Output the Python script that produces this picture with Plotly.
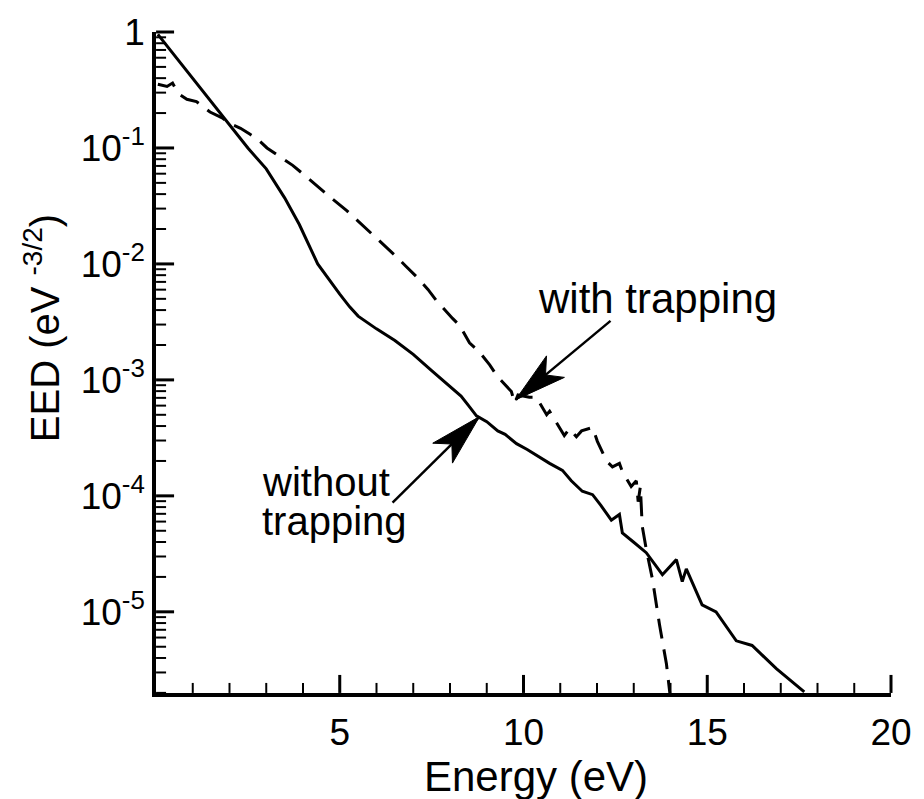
import numpy as np
import plotly.graph_objects as go

# ---------------- data ----------------
energy_without = [0.05, 1.0, 2.0, 2.5, 3.0, 3.5, 3.9, 4.4, 5.0, 5.27, 5.5, 6.0, 6.5, 7.0, 7.5,
                  7.99, 8.3, 8.5, 8.72, 9.0, 9.3, 9.5, 9.81, 10.1, 10.4, 10.71, 11.06, 11.3,
                  11.6, 11.88, 12.1, 12.39, 12.61, 12.69, 13.0, 13.34, 13.78, 14.16, 14.32,
                  14.43, 14.86, 15.24, 15.79, 16.22, 16.88, 17.64]
log_eed_without = [-0.02, -0.40, -0.81, -1.0, -1.18, -1.43, -1.66, -2.0, -2.26, -2.37, -2.45,
                   -2.56, -2.66, -2.78, -2.92, -3.06, -3.14, -3.22, -3.31, -3.36, -3.44, -3.47,
                   -3.55, -3.60, -3.66, -3.72, -3.78, -3.87, -3.96, -3.99, -4.08, -4.21, -4.16,
                   -4.32, -4.40, -4.49, -4.68, -4.55, -4.74, -4.63, -4.94, -5.00, -5.25, -5.29,
                   -5.49, -5.69]

energy_with = [0.05, 0.3, 0.45, 0.6, 0.84, 1.1, 1.47, 1.8, 2.01, 2.3, 2.55, 2.75, 3.02, 3.3,
               3.72, 4.1, 4.46, 4.8, 5.19, 5.5, 5.82, 6.2, 6.55, 6.8, 7.09, 7.4, 7.64, 8.07,
               8.26, 8.53, 8.8, 9.08, 9.29, 9.67, 9.76, 9.85, 10.16, 10.35, 10.63, 10.71,
               10.98, 11.11, 11.25, 11.44, 11.58, 11.88, 12.01, 12.26, 12.42, 12.61, 12.69,
               12.93, 13.07, 13.12, 13.18, 13.23, 13.34, 13.51, 13.7, 13.89, 14.0]
log_eed_with = [-0.45, -0.47, -0.44, -0.53, -0.58, -0.60, -0.69, -0.74, -0.79, -0.83, -0.88,
                -0.92, -1.0, -1.06, -1.15, -1.25, -1.35, -1.44, -1.54, -1.63, -1.72, -1.83,
                -1.94, -2.02, -2.11, -2.22, -2.32, -2.47, -2.53, -2.68, -2.76, -2.87, -2.97,
                -3.10, -3.20, -3.13, -3.15, -3.15, -3.30, -3.27, -3.41, -3.48, -3.42, -3.49,
                -3.44, -3.41, -3.53, -3.70, -3.75, -3.72, -3.79, -3.92, -3.87, -4.05, -3.92,
                -4.26, -4.46, -4.72, -5.11, -5.45, -5.75]

eed_without = [10 ** v for v in log_eed_without]
eed_with = [10 ** v for v in log_eed_with]

X_RANGE = [0, 20]
Y_LOG_RANGE = [-5.7, 0]
x_tickvals = [5, 10, 15, 20]
x_minor_tickvals = [v for v in range(1, 20) if v % 5 != 0]
y_tickvals = [1, 1e-1, 1e-2, 1e-3, 1e-4, 1e-5]
y_ticktext = ["1", "10<sup>-1</sup>", "10<sup>-2</sup>", "10<sup>-3</sup>",
              "10<sup>-4</sup>", "10<sup>-5</sup>"]
y_minor_tickvals = [k * 10.0 ** e for e in range(-6, 0) for k in range(2, 10)
                    if Y_LOG_RANGE[0] <= np.log10(k * 10.0 ** e) <= Y_LOG_RANGE[1]]

# ---------------- layout geometry ----------------
W, H = 924, 799
L_M, R_M, T_M, B_M = 156, 32, 21, 106
PW = W - L_M - R_M
PH = H - T_M - B_M
FONT = "Liberation Sans, Arial, Helvetica, sans-serif"
EDGE = 1e-4  # anchor just inside the axis line (an exact 0 anchor is not drawn)


def px_to_paper(xp, yp):
    return (xp - L_M) / PW, (H - B_M - yp) / PH


def x_frac(v):
    return max(EDGE, (v - X_RANGE[0]) / (X_RANGE[1] - X_RANGE[0]))


def y_frac(v):
    return max(EDGE, (np.log10(v) - Y_LOG_RANGE[0]) / (Y_LOG_RANGE[1] - Y_LOG_RANGE[0]))


def pixel_line(ax_, ay_, x1, y1, width):
    return dict(type="line", xref="paper", yref="paper", xsizemode="pixel",
                ysizemode="pixel", xanchor=ax_, yanchor=ay_, x0=0, y0=0, x1=x1, y1=y1,
                line=dict(color="black", width=width), layer="above")


def arrow_shapes(tip, tail, length=52, half_w=14, notch=13):
    tx, ty = px_to_paper(*tip)
    dx, dy = tail[0] - tip[0], -(tail[1] - tip[1])
    n = np.hypot(dx, dy)
    ux, uy = dx / n, dy / n
    vx, vy = -uy, ux
    b1 = (length * ux + half_w * vx, length * uy + half_w * vy)
    b2 = (length * ux - half_w * vx, length * uy - half_w * vy)
    nc = ((length - notch) * ux, (length - notch) * uy)
    head = dict(type="path", xref="paper", yref="paper", xsizemode="pixel",
                ysizemode="pixel", xanchor=tx, yanchor=ty,
                path=f"M0,0 L{b1[0]:.1f},{b1[1]:.1f} L{nc[0]:.1f},{nc[1]:.1f} "
                     f"L{b2[0]:.1f},{b2[1]:.1f} Z",
                fillcolor="black", line=dict(color="black", width=1))
    return [pixel_line(tx, ty, dx, dy, 2.5), head]


fig = go.Figure()
fig.add_trace(go.Scatter(x=energy_without, y=eed_without, mode="lines",
                         line=dict(color="black", width=3), showlegend=False))
fig.add_trace(go.Scatter(x=energy_with, y=eed_with, mode="lines",
                         line=dict(color="black", width=3, dash="20px,11px"),
                         showlegend=False))

shapes = []
shapes += [pixel_line(x_frac(v), EDGE, 0, 18, 3) for v in x_tickvals]
shapes += [pixel_line(x_frac(v), EDGE, 0, 10, 2) for v in x_minor_tickvals]
shapes += [pixel_line(EDGE, y_frac(v), 18, 0, 3) for v in y_tickvals]
shapes += [pixel_line(EDGE, y_frac(v), 10, 0, 2) for v in y_minor_tickvals]
shapes += arrow_shapes((516, 395), (611, 316)) + arrow_shapes((480, 412), (393, 498))

tickfont = dict(family=FONT, size=37, color="black")

fig.update_layout(
    width=W, height=H,
    margin=dict(l=L_M, r=R_M, t=T_M, b=B_M),
    paper_bgcolor="white", plot_bgcolor="white",
    xaxis=dict(range=X_RANGE, tickmode="array", tickvals=x_tickvals,
               showline=True, linecolor="black", linewidth=3.5,
               showgrid=False, zeroline=False, ticks="", tickfont=tickfont,
               ticklabelstandoff=4),
    yaxis=dict(type="log", range=Y_LOG_RANGE, tickmode="array", tickvals=y_tickvals,
               ticktext=y_ticktext,
               showline=True, linecolor="black", linewidth=3.5,
               showgrid=False, zeroline=False, ticks="", tickfont=tickfont),
    shapes=shapes,
    annotations=[
        dict(text="Energy (eV)", xref="paper", yref="paper",
             x=px_to_paper(537, 0)[0], y=px_to_paper(0, 778)[1],
             showarrow=False, font=dict(family=FONT, size=42, color="black"),
             xanchor="center", yanchor="middle"),
        dict(text="EED (eV <sup>-3/2</sup>)", xref="paper", yref="paper",
             x=px_to_paper(42, 0)[0], y=px_to_paper(0, 322)[1], textangle=-90,
             showarrow=False, font=dict(family=FONT, size=40, color="black"),
             xanchor="center", yanchor="middle"),
        dict(text="with trapping", xref="x", yref="y", x=13.65, y=-2.30,
             showarrow=False, font=dict(family=FONT, size=42, color="black"),
             xanchor="center", yanchor="middle"),
        dict(text="without", xref="x", yref="y", x=2.83, y=-3.884,
             showarrow=False, font=dict(family=FONT, size=40, color="black"),
             xanchor="left", yanchor="middle"),
        dict(text="trapping", xref="x", yref="y", x=2.83, y=-4.215,
             showarrow=False, font=dict(family=FONT, size=40, color="black"),
             xanchor="left", yanchor="middle"),
    ],
)

fig.write_html("out.html")
